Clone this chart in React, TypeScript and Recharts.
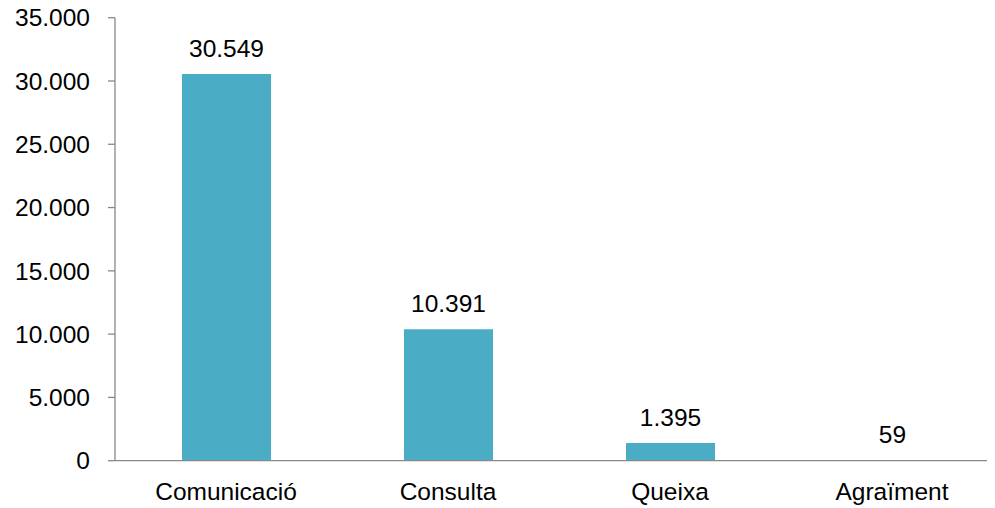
import * as React from "react";
import { BarChart, Bar, XAxis, YAxis, LabelList } from "recharts";

const categories = ["Comunicació", "Consulta", "Queixa", "Agraïment"];
const counts = [30549, 10391, 1395, 59];
const yTicks = [0, 5000, 10000, 15000, 20000, 25000, 30000, 35000];
const boundaryTicks = [0, 1, 2, 3, 4];

const data = categories.map((name, i) => ({ name, value: counts[i] }));

const FONT = '"Liberation Sans", Arial, sans-serif';
const AXIS = "#888888";
const SIZE = 24.5;

function fmt(v: unknown): string {
  const n = Number(v);
  if (Number.isNaN(n)) return "";
  return String(Math.round(n)).replace(/\B(?=(\d{3})+(?!\d))/g, ".");
}

export default function App() {
  // pulled up over the body margin so the top tick label has room
  return (
    <div style={{ width: 987, height: 508, marginTop: -8, overflow: "hidden", fontFamily: FONT }}>
      <BarChart
        width={1000}
        height={508}
        data={data}
        margin={{ top: 17.7, right: 5, bottom: 7.3, left: 0 }}
        barSize={89}
      >
        <XAxis
          xAxisId="edges"
          type="number"
          domain={[0, 4]}
          ticks={boundaryTicks}
          tick={false}
          axisLine={false}
          tickLine={{ stroke: AXIS, strokeWidth: 1.3 }}
          tickSize={7}
          height={0}
          orientation="bottom"
        />
        <XAxis
          xAxisId="cat"
          dataKey="name"
          height={40}
          axisLine={{ stroke: AXIS, strokeWidth: 1.3 }}
          tickLine={false}
          tickSize={0}
          tickMargin={22}
          interval={0}
          tick={{ fill: "#000", fontSize: SIZE, fontFamily: FONT }}
        />
        <YAxis
          domain={[0, 35000]}
          ticks={yTicks}
          interval={0}
          width={107}
          tickFormatter={fmt}
          axisLine={{ stroke: AXIS, strokeWidth: 1.3 }}
          tickLine={{ stroke: AXIS, strokeWidth: 1.3 }}
          tickSize={7}
          tickMargin={18}
          tick={{ fill: "#000", fontSize: SIZE, fontFamily: FONT }}
        />
        <Bar xAxisId="cat" dataKey="value" fill="#4BACC6" isAnimationActive={false}>
          <LabelList
            dataKey="value"
            position="top"
            offset={17}
            formatter={fmt}
            style={{ fill: "#000", fontSize: SIZE, fontFamily: FONT }}
          />
        </Bar>
      </BarChart>
    </div>
  );
}
